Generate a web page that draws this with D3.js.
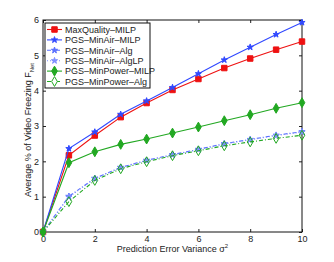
<!DOCTYPE html>
<html>
<head>
<meta charset="utf-8">
<script src="https://cdn.jsdelivr.net/npm/d3@7"></script>
<style>
  body { margin: 0; background: #fff; }
  text { font-family: "Liberation Sans", Arial, sans-serif; fill: #222; }
</style>
</head>
<body>
<div id="chart-area"></div>
<script>
// data
const variance = [0, 1, 2, 3, 4, 5, 6, 7, 8, 9, 10];
const maxQualityMilp = [0, 2.17, 2.73, 3.25, 3.65, 4.02, 4.33, 4.64, 4.91, 5.16, 5.39];
const minAirMilp = [0, 2.36, 2.83, 3.33, 3.71, 4.09, 4.48, 4.87, 5.23, 5.59, 5.93];
const minAirAlg = [0, 1.01, 1.52, 1.83, 2.03, 2.19, 2.34, 2.50, 2.62, 2.74, 2.84];
const minAirAlgLP = [0, 0.99, 1.51, 1.82, 2.02, 2.18, 2.33, 2.49, 2.61, 2.73, 2.83];
const minPowerMilp = [0, 1.96, 2.27, 2.48, 2.63, 2.80, 2.97, 3.15, 3.32, 3.50, 3.66];
const minPowerAlg = [0, 0.86, 1.46, 1.79, 1.99, 2.16, 2.30, 2.44, 2.55, 2.65, 2.74];
const xTicks = [0, 2, 4, 6, 8, 10];
const yTicks = [0, 1, 2, 3, 4, 5, 6];

const series = [
  { name: 'MaxQuality\u2013MILP', values: maxQualityMilp, color: '#ee1111', dash: null, marker: 'square', fill: true },
  { name: 'PGS\u2013MinAir\u2013MILP', values: minAirMilp, color: '#3048ff', dash: null, marker: 'star', fill: true },
  { name: 'PGS\u2013MinAir\u2013Alg', values: minAirAlg, color: '#5a70ff', dash: '4,2,1,2', marker: 'star', fill: true },
  { name: 'PGS\u2013MinAir\u2013AlgLP', values: minAirAlgLP, color: '#8090ff', dash: '1,2', marker: 'star', fill: true },
  { name: 'PGS\u2013MinPower\u2013MILP', values: minPowerMilp, color: '#22a822', dash: null, marker: 'diamond', fill: true },
  { name: 'PGS\u2013MinPower\u2013Alg', values: minPowerAlg, color: '#22a822', dash: '4,2,1,2', marker: 'diamond', fill: false }
];

// plot box
const margin = { left: 43, right: 32, top: 20, bottom: 30 };
const W = 334, H = 262;
const width = W - margin.left - margin.right;
const height = H - margin.top - margin.bottom;

const svg = d3.select('#chart-area')
  .append('svg')
  .attr('width', W)
  .attr('height', H);

const g = svg.append('g')
  .attr('transform', 'translate(' + margin.left + ',' + margin.top + ')');

const x = d3.scaleLinear().domain([0, 10]).range([0, width]);
const y = d3.scaleLinear().domain([0, 6]).range([height, 0]);

// axes, ticks pointing inwards
const tickLen = 3;
g.append('g')
  .attr('transform', 'translate(0,' + height + ')')
  .call(d3.axisBottom(x).tickValues(xTicks).tickSize(-tickLen).tickPadding(4).tickFormat(d3.format('d')))
  .call(a => a.select('.domain').remove());
g.append('g')
  .call(d3.axisTop(x).tickValues(xTicks).tickSize(-tickLen).tickFormat(''))
  .call(a => a.select('.domain').remove());
g.append('g')
  .call(d3.axisLeft(y).tickValues(yTicks).tickSize(-tickLen).tickPadding(4).tickFormat(d3.format('d')))
  .call(a => a.select('.domain').remove());
g.append('g')
  .attr('transform', 'translate(' + width + ',0)')
  .call(d3.axisRight(y).tickValues(yTicks).tickSize(-tickLen).tickFormat(''))
  .call(a => a.select('.domain').remove());

g.selectAll('.tick text').attr('font-size', '9px').attr('fill', '#222');
g.selectAll('.tick line').attr('stroke', '#222');

g.append('rect')
  .attr('width', width)
  .attr('height', height)
  .attr('fill', 'none')
  .attr('stroke', '#111')
  .attr('stroke-width', 1);

// axis labels
svg.append('text')
  .attr('x', margin.left + width / 2)
  .attr('y', 252)
  .attr('text-anchor', 'middle')
  .attr('font-size', '9px')
  .html('Prediction Error Variance \u03c3<tspan dy="-4" font-size="6px">2</tspan>');

svg.append('text')
  .attr('transform', 'translate(31,' + (margin.top + height / 2 + 4) + ') rotate(-90)')
  .attr('text-anchor', 'middle')
  .attr('font-size', '9px')
  .html('Average % of Video Freezing F<tspan dy="3" font-size="6px">Net</tspan>');

// markers
function markerPath(type) {
  if (type === 'square') return d3.symbol(d3.symbolSquare, 30)();
  if (type === 'diamond') return d3.symbol(d3.symbolDiamond, 28)();
  return d3.symbol(d3.symbolStar, 12)();
}

const line = d3.line()
  .x((d, i) => x(variance[i]))
  .y(d => y(d));

const draw = g.append('g');
series.forEach(s => {
  draw.append('path')
    .datum(s.values)
    .attr('d', line)
    .attr('fill', 'none')
    .attr('stroke', s.color)
    .attr('stroke-width', 1.1)
    .attr('stroke-dasharray', s.dash);
  draw.selectAll(null)
    .data(s.values)
    .enter()
    .append('path')
    .attr('transform', (d, i) => 'translate(' + x(variance[i]) + ',' + y(d) + ')')
    .attr('d', markerPath(s.marker))
    .attr('fill', s.fill ? s.color : 'none')
    .attr('stroke', s.color)
    .attr('stroke-width', 1);
});

// legend
const lg = svg.append('g').attr('transform', 'translate(45,23)');
lg.append('rect')
  .attr('width', 105)
  .attr('height', 65)
  .attr('fill', '#fff')
  .attr('stroke', '#111')
  .attr('stroke-width', 1);

series.forEach((s, i) => {
  const yy = 6.5 + i * 10.4;
  lg.append('line')
    .attr('x1', 2).attr('x2', 17)
    .attr('y1', yy).attr('y2', yy)
    .attr('stroke', s.color)
    .attr('stroke-width', 1.1)
    .attr('stroke-dasharray', s.dash);
  lg.append('path')
    .attr('transform', 'translate(9.5,' + yy + ')')
    .attr('d', markerPath(s.marker))
    .attr('fill', s.fill ? s.color : '#fff')
    .attr('stroke', s.color);
  lg.append('text')
    .attr('x', 20)
    .attr('y', yy + 3.2)
    .attr('font-size', '9px')
    .text(s.name);
});
</script>
</body>
</html>
